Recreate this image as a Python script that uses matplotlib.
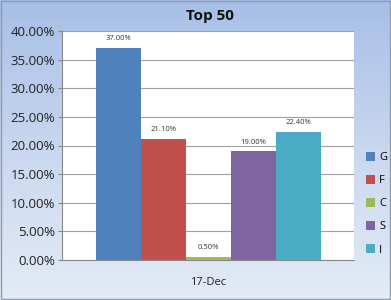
import numpy as np
import matplotlib
matplotlib.use("Agg")
import matplotlib.pyplot as plt
from matplotlib.ticker import FuncFormatter, MultipleLocator

series = ['G', 'F', 'C', 'S', 'I']
values = [37.00, 21.10, 0.50, 19.00, 22.40]
colors = ['#4f81bd', '#c0504d', '#9bbb59', '#8064a2', '#4bacc6']
category = '17-Dec'

plt.rcParams['font.family'] = ['Open Sans', 'DejaVu Sans']

fig = plt.figure(figsize=(3.91, 3.0), dpi=100)

# gradient background like the Excel chart area
bg = fig.add_axes([0, 0, 1, 1], zorder=-10)
grad = np.linspace(0, 1, 256).reshape(-1, 1)
cmap = matplotlib.colors.LinearSegmentedColormap.from_list(
    'bg', ['#a7bfe6', '#c9d7ef', '#e4ebf6'])
bg.imshow(grad, aspect='auto', cmap=cmap, extent=[0, 1, 0, 1])
bg.add_patch(plt.Rectangle((0.002, 0.003), 0.995, 0.993, fill=False,
                           edgecolor='#8e9aab', linewidth=1.0))
bg.set_xlim(0, 1)
bg.set_ylim(0, 1)
bg.axis('off')

ax = fig.add_axes([62 / 391, 1 - 260 / 300, (354 - 62) / 391, (260 - 31) / 300])
ax.set_facecolor('white')

bar_w = 45
start = 96 - 62
x = [start + bar_w * i + bar_w / 2 for i in range(len(series))]
for xi, v, c, s in zip(x, values, colors, series):
    ax.bar(xi, v, width=bar_w, color=c, label=s, zorder=3)
    ax.text(xi, v + 1.0, '%.2f%%' % v, ha='center', va='bottom',
            fontsize=5.5, color='#333333', zorder=4)

ax.set_xlim(0, 354 - 62)
ax.set_ylim(0, 40)
ax.yaxis.set_major_locator(MultipleLocator(5))
ax.yaxis.set_major_formatter(FuncFormatter(lambda v, p: '%.2f%%' % v))
ax.grid(axis='y', color='#a0a0a0', linewidth=0.8, zorder=0)
ax.set_xticks([(354 - 62) / 2])
ax.set_xticklabels([category])
ax.tick_params(axis='x', length=0, labelsize=8, pad=12, labelcolor='#222222')
ax.tick_params(axis='y', labelsize=9.5, length=3, color='#888888', pad=2,
               labelcolor='#222222')
for side in ['top', 'right']:
    ax.spines[side].set_visible(False)
ax.spines['left'].set_color('#888888')
ax.spines['bottom'].set_color('#888888')

fig.text(210 / 391, 1 - 16 / 300, 'Top 50', ha='center', va='center',
         fontsize=11, fontweight='bold', color='#111111')

leg = fig.legend(handles=ax.patches, labels=series, loc='upper left',
                 bbox_to_anchor=(356 / 391, 1 - 142 / 300), frameon=False,
                 fontsize=8, handlelength=0.8, handleheight=0.8,
                 handletextpad=0.4, labelspacing=1.08)

fig.savefig('out.png', dpi=100)
